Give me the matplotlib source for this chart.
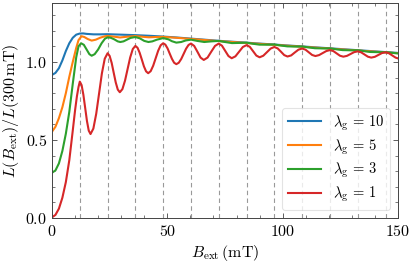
import matplotlib
matplotlib.use("Agg")
import matplotlib.pyplot as plt
from matplotlib.ticker import MultipleLocator, FuncFormatter

plt.rcParams['mathtext.fontset'] = 'cm'
plt.rcParams['font.family'] = 'serif'
plt.rcParams['font.serif'] = ['DejaVu Serif']

# vertical reference lines (mT)
flux_lines = [12.05, 24.1, 36.15, 48.2, 60.25, 72.3, 84.35, 96.4, 108.45, 120.5, 132.55, 144.6]

# lambda_g = 10
B_blue = [0, 1.5, 3, 4.5, 6, 7.5, 9, 10.5, 12, 13.5, 15, 18, 21, 24, 30, 36, 42, 48, 54, 60,
          72, 84, 96, 108, 120, 132, 144, 150]
L_blue = [0.917, 0.93, 0.96, 1.01, 1.07, 1.12, 1.155, 1.175, 1.182, 1.183, 1.180, 1.177, 1.177,
          1.178, 1.175, 1.172, 1.168, 1.163, 1.157, 1.150, 1.136, 1.124, 1.112, 1.100, 1.088,
          1.076, 1.064, 1.058]

# lambda_g = 5
B_orange = [0, 1.5, 3, 4.5, 6, 7.5, 9, 10.5, 11.5, 12.8, 14, 15.5, 17.2, 19, 21, 23, 24.2, 27,
            29.5, 32, 36, 39, 42, 45, 48, 54, 60, 72, 84, 96, 108, 120, 132, 144, 150]
L_orange = [0.553, 0.585, 0.64, 0.71, 0.80, 0.905, 1.0, 1.09, 1.14, 1.165, 1.16, 1.147, 1.137,
            1.143, 1.156, 1.165, 1.167, 1.162, 1.157, 1.161, 1.166, 1.162, 1.158, 1.160, 1.161,
            1.155, 1.148, 1.134, 1.122, 1.110, 1.098, 1.086, 1.074, 1.062, 1.056]

# lambda_g = 3
B_green = [0, 1.5, 3, 4.5, 6, 7.5, 9, 10.5, 11.5, 12.6, 13.8, 15, 16.2, 17.2, 18.5, 20, 21.5, 23,
           24.2, 25.5, 27, 28.5, 29.6, 31, 32.5, 34, 36.1, 38, 40, 41.8, 43.5, 45.5, 48.2, 50.5,
           52, 53.9, 56, 58, 60.3, 63, 66, 69, 72.3, 75, 78, 81, 84.4, 87, 90, 93, 96.4, 99, 102,
           105, 108.5, 111, 114, 117, 120.5, 123, 126, 129, 132.6, 135, 138, 141, 144.6, 147, 150]
L_green = [0.29, 0.305, 0.35, 0.43, 0.54, 0.68, 0.86, 1.03, 1.10, 1.12, 1.11, 1.08, 1.05, 1.04,
           1.05, 1.08, 1.12, 1.15, 1.158, 1.155, 1.145, 1.132, 1.128, 1.132, 1.143, 1.154, 1.16,
           1.152, 1.135, 1.128, 1.132, 1.143, 1.153, 1.145, 1.133, 1.124, 1.128, 1.138, 1.143,
           1.135, 1.128, 1.132, 1.135, 1.128, 1.121, 1.122, 1.124, 1.117, 1.111, 1.111, 1.112,
           1.106, 1.100, 1.099, 1.099, 1.094, 1.088, 1.087, 1.087, 1.082, 1.076, 1.075, 1.075,
           1.070, 1.064, 1.063, 1.063, 1.059, 1.055]

# lambda_g = 1
B_red = [0, 1.5, 3, 4.5, 6, 7.5, 9, 10.0, 10.8, 11.5, 12.05,
         12.83, 13.6, 14.38, 15.15, 15.93, 16.7,
         17.93, 19.17, 20.4, 21.63, 22.87, 24.1,
         24.98, 25.87, 26.75, 27.63, 28.52, 29.4,
         30.53, 31.65, 32.78, 33.9, 35.03, 36.15,
         37.08, 38.0, 38.93, 39.85, 40.78, 41.7,
         42.78, 43.87, 44.95, 46.03, 47.12, 48.2,
         49.15, 50.1, 51.05, 52.0, 52.95, 53.9,
         54.96, 56.02, 57.08, 58.13, 59.19, 60.25,
         61.64, 63.03, 64.41, 65.8, 67.43, 69.05, 70.68, 72.3,
         73.7, 75.1, 76.5, 77.9, 79.51, 81.13, 82.74, 84.35,
         85.76, 87.18, 88.59, 90.0, 91.6, 93.2, 94.8, 96.4,
         97.83, 99.25, 100.68, 102.1, 103.69, 105.28, 106.86, 108.45,
         109.89, 111.33, 112.76, 114.2, 115.78, 117.35, 118.93, 120.5,
         121.95, 123.4, 124.85, 126.3, 127.86, 129.43, 130.99, 132.55,
         134.01, 135.48, 136.94, 138.4, 139.95, 141.5, 143.05, 144.6,
         146.05, 147.5, 148.95, 150]
L_red = [0.004, 0.02, 0.06, 0.13, 0.23, 0.37, 0.56, 0.69, 0.78, 0.84, 0.874,
         0.852, 0.790, 0.706, 0.622, 0.560, 0.538,
         0.573, 0.668, 0.797, 0.927, 1.021, 1.056,
         1.039, 0.994, 0.931, 0.869, 0.823, 0.806,
         0.826, 0.880, 0.955, 1.029, 1.083, 1.103,
         1.091, 1.059, 1.016, 0.972, 0.940, 0.928,
         0.941, 0.976, 1.024, 1.072, 1.107, 1.120,
         1.111, 1.087, 1.053, 1.020, 0.995, 0.986,
         0.995, 1.019, 1.052, 1.085, 1.109, 1.118,
         1.103, 1.066, 1.028, 1.013, 1.028, 1.066, 1.103, 1.118,
         1.104, 1.071, 1.038, 1.024, 1.036, 1.066, 1.096, 1.108,
         1.097, 1.069, 1.041, 1.030, 1.040, 1.063, 1.086, 1.096,
         1.087, 1.066, 1.044, 1.035, 1.042, 1.061, 1.079, 1.086,
         1.079, 1.062, 1.045, 1.038, 1.044, 1.057, 1.070, 1.076,
         1.070, 1.055, 1.040, 1.034, 1.039, 1.051, 1.063, 1.068,
         1.062, 1.048, 1.034, 1.028, 1.033, 1.045, 1.057, 1.062,
         1.056, 1.042, 1.028, 1.023]

series = [
    (B_blue, L_blue, '#1f77b4', r'$\lambda_\mathrm{g} \,=\, 10$'),
    (B_orange, L_orange, '#ff7f0e', r'$\lambda_\mathrm{g} \,=\, 5$'),
    (B_green, L_green, '#2ca02c', r'$\lambda_\mathrm{g} \,=\, 3$'),
    (B_red, L_red, '#d62728', r'$\lambda_\mathrm{g} \,=\, 1$'),
]

fig = plt.figure(figsize=(4.15, 2.65), dpi=100)
ax = fig.add_axes([0.1253, 0.1774, 0.8337, 0.8113])

for xv in flux_lines:
    ax.axvline(xv, color='#999999', linestyle=(0, (4, 3)), linewidth=0.8, zorder=1)

for B, L, c, lab in series:
    ax.plot(B, L, color=c, linewidth=1.5, label=lab, zorder=2)

ax.set_xlim(0, 150)
ax.set_ylim(0, 1.378)
ax.xaxis.set_major_locator(MultipleLocator(50))
ax.xaxis.set_minor_locator(MultipleLocator(10))
ax.yaxis.set_major_locator(MultipleLocator(0.5))
ax.yaxis.set_minor_locator(MultipleLocator(0.1))
ax.xaxis.set_major_formatter(FuncFormatter(lambda v, p: r'$%d$' % round(v)))
ax.yaxis.set_major_formatter(FuncFormatter(lambda v, p: r'$%.1f$' % v))
ax.tick_params(which='both', direction='in', top=True, right=True, color='#444444',
               labelsize=11.5)
ax.tick_params(which='major', length=3.5, width=0.6)
ax.tick_params(which='minor', length=2, width=0.5)
for s in ax.spines.values():
    s.set_color('#444444')
    s.set_linewidth(0.7)

ax.set_xlabel(r'$B_\mathrm{ext}\,(\mathrm{mT})$', fontsize=11.5, labelpad=2)
ax.set_ylabel(r'$L(B_\mathrm{ext})/L(300\,\mathrm{mT})$', fontsize=11.5, labelpad=3)

leg = ax.legend(loc='lower right', fontsize=10.5, framealpha=0.8, edgecolor='#dddddd',
                handlelength=2.3, handletextpad=0.8, borderaxespad=0.55, labelspacing=0.3,
                borderpad=0.4)
leg.get_frame().set_linewidth(0.8)

fig.savefig('out.png', dpi=100)
